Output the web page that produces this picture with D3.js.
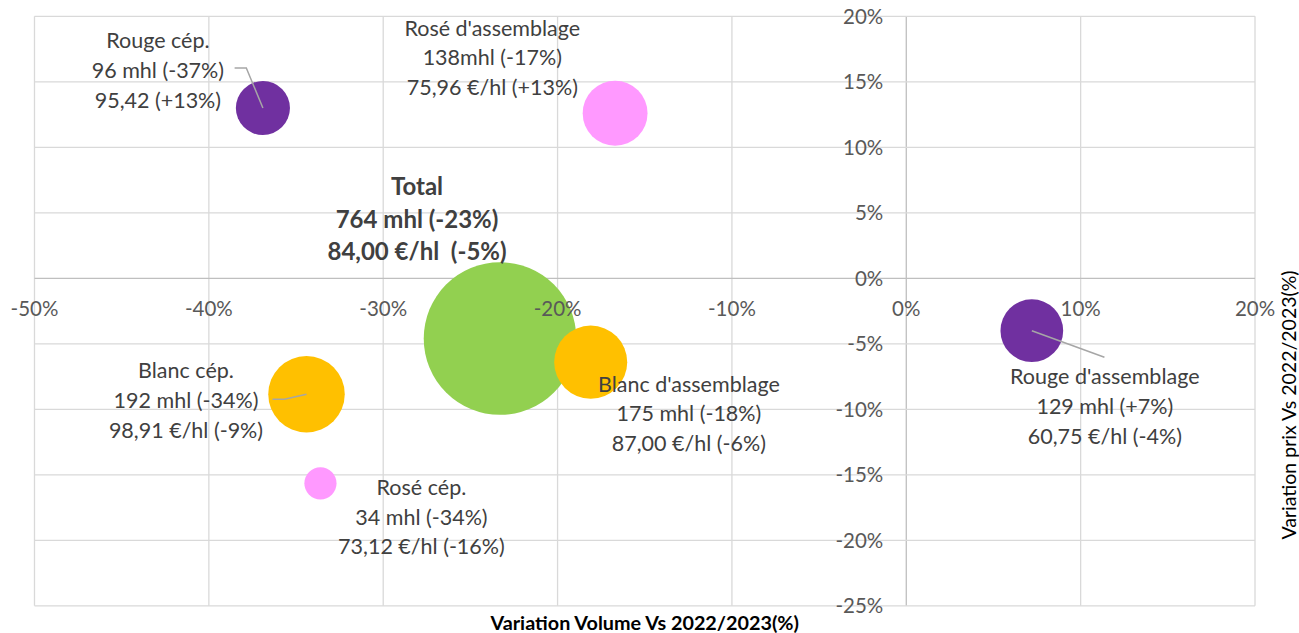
<!DOCTYPE html>
<html>
<head>
<meta charset="utf-8">
<script src="https://cdn.jsdelivr.net/npm/d3@7"></script>
<style>
  html, body { margin: 0; padding: 0; background: #fff; }
  svg { display: block; font-family: Lato, "Open Sans", sans-serif; }
</style>
</head>
<body>
<svg id="chart" width="1299" height="633"></svg>
<script>
// ---- data ----
const categories = ["Total", "Blanc cép.", "Blanc d'assemblage", "Rosé d'assemblage", "Rouge d'assemblage", "Rouge cép.", "Rosé cép."];
const volumeVariation = [-23.3, -34.4, -18.1, -16.7, 7.2, -36.9, -33.6];   // % x
const priceVariation  = [-4.6, -8.85, -6.4, 12.6, -4.0, 13.0, -15.65];     // % y
const volumes = [764, 192, 175, 138, 129, 96, 34];                          // mhl (bubble size)
const bubbleColors = ["#92D050", "#FFC000", "#FFC000", "#FF99FF", "#7030A0", "#7030A0", "#FF99FF"];
const labelLines = [
  ["Total", "764 mhl (-23%)", "84,00 €/hl  (-5%)"],
  ["Blanc cép.", "192 mhl (-34%)", "98,91 €/hl (-9%)"],
  ["Blanc d'assemblage", "175 mhl (-18%)", "87,00 €/hl (-6%)"],
  ["Rosé d'assemblage", "138mhl (-17%)", "75,96 €/hl (+13%)"],
  ["Rouge d'assemblage", "129 mhl (+7%)", "60,75 €/hl (-4%)"],
  ["Rouge cép.", "96 mhl (-37%)", "95,42 (+13%)"],
  ["Rosé cép.", "34 mhl (-34%)", "73,12 €/hl (-16%)"]
];
const xTicks = [-50, -40, -30, -20, -10, 0, 10, 20];
const xTickLabels = ["-50%", "-40%", "-30%", "-20%", "-10%", "0%", "10%", "20%"];
const yTicks = [-25, -20, -15, -10, -5, 0, 5, 10, 15, 20];
const yTickLabels = ["-25%", "-20%", "-15%", "-10%", "-5%", "0%", "5%", "10%", "15%", "20%"];
const xTitle = "Variation Volume Vs 2022/2023(%)";
const yTitle = "Variation prix Vs 2022/2023(%)";

// ---- layout (pixel offsets of labels relative to bubble centres) ----
const labelLayout = [
  { dx: -83,    dy: -143.8, bold: true,  leader: null },
  { dx: -120.5, dy: -15.9,  bold: false, leader: [[-34, 5], [-22, 5], [0, 0]] },
  { dx: 98.2,   dy: 29.5,   bold: false, leader: null },
  { dx: -122.8, dy: -77.6,  bold: false, leader: null },
  { dx: 73,     dy: 53.5,   bold: false, leader: [[0, 0], [72.6, 26.5]] },
  { dx: -105,   dy: -59.7,  bold: false, leader: [[-28.3, -40], [-16.6, -40], [0, 0]] },
  { dx: 101,    dy: 11.7,   bold: false, leader: null }
];

(function () {
const svg = d3.select("#chart");
const pLeft = 34.5, pRight = 1255, pTop = 16.3, pBottom = 605.8;

const x = d3.scaleLinear().domain([-50, 20]).range([pLeft, pRight]);
const y = d3.scaleLinear().domain([-25, 20]).range([pBottom, pTop]);
const r = d3.scaleSqrt().domain([0, 764]).range([0, 76.3]);

// gridlines
const grid = svg.append("g");
grid.selectAll("line.vx").data(xTicks).join("line")
  .attr("x1", d => x(d)).attr("x2", d => x(d))
  .attr("y1", pTop).attr("y2", pBottom)
  .attr("stroke", d => d === 0 ? "#bfbfbf" : "#d9d9d9").attr("stroke-width", 1.3);
grid.selectAll("line.hy").data(yTicks).join("line")
  .attr("y1", d => y(d)).attr("y2", d => y(d))
  .attr("x1", pLeft).attr("x2", pRight)
  .attr("stroke", d => d === 0 ? "#bfbfbf" : "#d9d9d9").attr("stroke-width", 1.3);

// bubbles
const idx = d3.range(categories.length);
svg.append("g").selectAll("circle").data(idx).join("circle")
  .attr("cx", i => x(volumeVariation[i]))
  .attr("cy", i => y(priceVariation[i]))
  .attr("r", i => r(volumes[i]))
  .attr("fill", i => bubbleColors[i]);

// leader lines
const line = d3.line();
svg.append("g").selectAll("path").data(idx.filter(i => labelLayout[i].leader)).join("path")
  .attr("d", i => {
    const cx = x(volumeVariation[i]), cy = y(priceVariation[i]);
    return line(labelLayout[i].leader.map(p => [cx + p[0], cy + p[1]]));
  })
  .attr("fill", "none").attr("stroke", "#a6a6a6").attr("stroke-width", 1.5);

// data labels
const lab = svg.append("g");
idx.forEach(i => {
  const L = labelLayout[i];
  const cx = x(volumeVariation[i]) + L.dx, cy = y(priceVariation[i]) + L.dy;
  const t = lab.append("text")
    .attr("text-anchor", "middle")
    .attr("fill", "#404040")
    .attr("font-size", L.bold ? 24 : 21.5)
    .attr("font-weight", L.bold ? 700 : 400);
  labelLines[i].forEach((s, k) => {
    t.append("tspan").attr("x", cx).attr("y", cy + k * (L.bold ? 32.8 : 29.7))
      .attr("xml:space", "preserve").text(s);
  });
});

// tick labels
const axes = svg.append("g").attr("fill", "#595959").attr("font-size", 20.5);
axes.selectAll("text.xt").data(xTicks).join("text")
  .attr("x", d => x(d)).attr("y", y(0) + 38)
  .attr("text-anchor", "middle")
  .text((d, i) => xTickLabels[i]);
axes.selectAll("text.yt").data(yTicks).join("text")
  .attr("x", x(0) - 23).attr("y", d => y(d)).attr("dy", "0.36em")
  .attr("text-anchor", "end")
  .text((d, i) => yTickLabels[i]);

// axis titles
svg.append("text")
  .attr("x", (pLeft + pRight) / 2).attr("y", 630)
  .attr("text-anchor", "middle").attr("font-weight", 700).attr("font-size", 19.8)
  .attr("fill", "#000").text(xTitle);
svg.append("text")
  .attr("transform", "translate(1296,405) rotate(-90)")
  .attr("text-anchor", "middle").attr("font-size", 19.5)
  .attr("fill", "#000").text(yTitle);
})();
</script>
</body>
</html>
